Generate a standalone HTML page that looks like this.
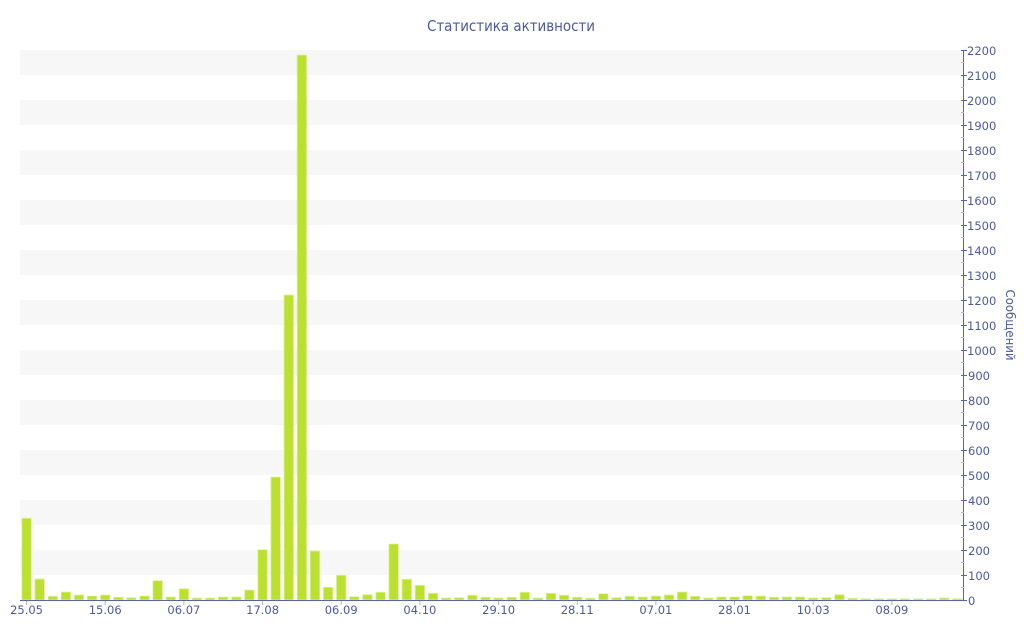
<!DOCTYPE html>
<html><head><meta charset="utf-8"><style>
html,body{margin:0;padding:0;background:#fff;}
svg{display:block;}
text{font-family:"DejaVu Sans","Liberation Sans",sans-serif;fill:#4d5b9c;}
</style></head><body>
<svg width="1024" height="640" viewBox="0 0 1024 640" xmlns="http://www.w3.org/2000/svg">
<rect x="0" y="0" width="1024" height="640" fill="#fff"/>
<text x="511" y="31" font-size="15.5" text-anchor="middle" textLength="168" lengthAdjust="spacingAndGlyphs">Статистика активности</text>
<g fill="#f7f7f7">
<rect x="20" y="50" width="943" height="25"/>
<rect x="20" y="100" width="943" height="25"/>
<rect x="20" y="150" width="943" height="25"/>
<rect x="20" y="200" width="943" height="25"/>
<rect x="20" y="250" width="943" height="25"/>
<rect x="20" y="300" width="943" height="25"/>
<rect x="20" y="350" width="943" height="25"/>
<rect x="20" y="400" width="943" height="25"/>
<rect x="20" y="450" width="943" height="25"/>
<rect x="20" y="500" width="943" height="25"/>
<rect x="20" y="550" width="943" height="25"/>
</g>
<g fill="#bbe02f" stroke="#dff29a" stroke-width="0.8">
<rect x="21.8" y="518.25" width="9.5" height="81.75"/>
<rect x="34.91" y="579" width="9.5" height="21"/>
<rect x="48.02" y="596.25" width="9.5" height="3.75"/>
<rect x="61.13" y="592" width="9.5" height="8"/>
<rect x="74.24" y="595" width="9.5" height="5"/>
<rect x="87.36" y="596" width="9.5" height="4"/>
<rect x="100.47" y="595" width="9.5" height="5"/>
<rect x="113.58" y="597.25" width="9.5" height="2.75"/>
<rect x="126.69" y="597.75" width="9.5" height="2.25"/>
<rect x="139.8" y="596" width="9.5" height="4"/>
<rect x="152.91" y="580.75" width="9.5" height="19.25"/>
<rect x="166.02" y="597" width="9.5" height="3"/>
<rect x="179.13" y="588.75" width="9.5" height="11.25"/>
<rect x="192.24" y="598" width="9.5" height="2"/>
<rect x="205.35" y="598" width="9.5" height="2"/>
<rect x="218.47" y="597" width="9.5" height="3"/>
<rect x="231.58" y="597" width="9.5" height="3"/>
<rect x="244.69" y="590" width="9.5" height="10"/>
<rect x="257.8" y="549.75" width="9.5" height="50.25"/>
<rect x="270.91" y="477" width="9.5" height="123"/>
<rect x="284.02" y="295" width="9.5" height="305"/>
<rect x="297.13" y="55" width="9.5" height="545"/>
<rect x="310.24" y="551" width="9.5" height="49"/>
<rect x="323.35" y="587.25" width="9.5" height="12.75"/>
<rect x="336.46" y="575.25" width="9.5" height="24.75"/>
<rect x="349.58" y="596.75" width="9.5" height="3.25"/>
<rect x="362.69" y="594.75" width="9.5" height="5.25"/>
<rect x="375.8" y="592.25" width="9.5" height="7.75"/>
<rect x="388.91" y="544" width="9.5" height="56"/>
<rect x="402.02" y="579.25" width="9.5" height="20.75"/>
<rect x="415.13" y="585.25" width="9.5" height="14.75"/>
<rect x="428.24" y="593.25" width="9.5" height="6.75"/>
<rect x="441.35" y="598" width="9.5" height="2"/>
<rect x="454.46" y="597.75" width="9.5" height="2.25"/>
<rect x="467.57" y="595.25" width="9.5" height="4.75"/>
<rect x="480.69" y="597.25" width="9.5" height="2.75"/>
<rect x="493.8" y="598" width="9.5" height="2"/>
<rect x="506.91" y="597.25" width="9.5" height="2.75"/>
<rect x="520.02" y="592.25" width="9.5" height="7.75"/>
<rect x="533.13" y="598" width="9.5" height="2"/>
<rect x="546.24" y="593.25" width="9.5" height="6.75"/>
<rect x="559.35" y="595.25" width="9.5" height="4.75"/>
<rect x="572.46" y="597.25" width="9.5" height="2.75"/>
<rect x="585.57" y="598.25" width="9.5" height="1.75"/>
<rect x="598.68" y="593.75" width="9.5" height="6.25"/>
<rect x="611.8" y="597.75" width="9.5" height="2.25"/>
<rect x="624.91" y="596.25" width="9.5" height="3.75"/>
<rect x="638.02" y="597" width="9.5" height="3"/>
<rect x="651.13" y="596" width="9.5" height="4"/>
<rect x="664.24" y="595" width="9.5" height="5"/>
<rect x="677.35" y="592" width="9.5" height="8"/>
<rect x="690.46" y="596.25" width="9.5" height="3.75"/>
<rect x="703.57" y="598" width="9.5" height="2"/>
<rect x="716.68" y="597" width="9.5" height="3"/>
<rect x="729.79" y="597" width="9.5" height="3"/>
<rect x="742.91" y="595.75" width="9.5" height="4.25"/>
<rect x="756.02" y="596" width="9.5" height="4"/>
<rect x="769.13" y="597.25" width="9.5" height="2.75"/>
<rect x="782.24" y="597" width="9.5" height="3"/>
<rect x="795.35" y="597" width="9.5" height="3"/>
<rect x="808.46" y="598" width="9.5" height="2"/>
<rect x="821.57" y="597.75" width="9.5" height="2.25"/>
<rect x="834.68" y="594.75" width="9.5" height="5.25"/>
<rect x="847.79" y="598.25" width="9.5" height="1.75"/>
<rect x="860.9" y="598.75" width="9.5" height="1.25"/>
<rect x="874.02" y="598.75" width="9.5" height="1.25"/>
<rect x="887.13" y="598.75" width="9.5" height="1.25"/>
<rect x="900.24" y="598.75" width="9.5" height="1.25"/>
<rect x="913.35" y="598.75" width="9.5" height="1.25"/>
<rect x="926.46" y="598.75" width="9.5" height="1.25"/>
<rect x="939.57" y="598" width="9.5" height="2"/>
<rect x="952.68" y="598.75" width="9.5" height="1.25"/>
</g>
<line x1="20" y1="600.5" x2="964" y2="600.5" stroke="#5566a6" stroke-width="1"/>
<g stroke="#b0b4c8" stroke-width="1">
<line x1="26.56" y1="601" x2="26.56" y2="605"/>
<line x1="105.2" y1="601" x2="105.2" y2="605"/>
<line x1="183.9" y1="601" x2="183.9" y2="605"/>
<line x1="262.6" y1="601" x2="262.6" y2="605"/>
<line x1="341.2" y1="601" x2="341.2" y2="605"/>
<line x1="419.9" y1="601" x2="419.9" y2="605"/>
<line x1="498.6" y1="601" x2="498.6" y2="605"/>
<line x1="577.2" y1="601" x2="577.2" y2="605"/>
<line x1="655.9" y1="601" x2="655.9" y2="605"/>
<line x1="734.5" y1="601" x2="734.5" y2="605"/>
<line x1="813.2" y1="601" x2="813.2" y2="605"/>
<line x1="891.9" y1="601" x2="891.9" y2="605"/>
</g>
<g font-size="11.5" text-anchor="middle">
<text x="26.56" y="614">25.05</text>
<text x="105.2" y="614">15.06</text>
<text x="183.9" y="614">06.07</text>
<text x="262.6" y="614">17.08</text>
<text x="341.2" y="614">06.09</text>
<text x="419.9" y="614">04.10</text>
<text x="498.6" y="614">29.10</text>
<text x="577.2" y="614">28.11</text>
<text x="655.9" y="614">07.01</text>
<text x="734.5" y="614">28.01</text>
<text x="813.2" y="614">10.03</text>
<text x="891.9" y="614">08.09</text>
</g>
<line x1="963.5" y1="50" x2="963.5" y2="601" stroke="#5566a6" stroke-width="1"/>
<path stroke="#b8b8b8" stroke-width="1" fill="none" d="M961 62.5h3M961 87.5h3M961 112.5h3M961 137.5h3M961 162.5h3M961 187.5h3M961 212.5h3M961 237.5h3M961 262.5h3M961 287.5h3M961 312.5h3M961 337.5h3M961 362.5h3M961 387.5h3M961 412.5h3M961 437.5h3M961 462.5h3M961 487.5h3M961 512.5h3M961 537.5h3M961 562.5h3M961 587.5h3"/>
<path stroke="#5566a6" stroke-width="1" fill="none" d="M961 50.5h6M961 75.5h6M961 100.5h6M961 125.5h6M961 150.5h6M961 175.5h6M961 200.5h6M961 225.5h6M961 250.5h6M961 275.5h6M961 300.5h6M961 325.5h6M961 350.5h6M961 375.5h6M961 400.5h6M961 425.5h6M961 450.5h6M961 475.5h6M961 500.5h6M961 525.5h6M961 550.5h6M961 575.5h6M961 600.5h6"/>
<g font-size="11.5" text-anchor="start">
<text x="967" y="55">2200</text>
<text x="967" y="80">2100</text>
<text x="967" y="105">2000</text>
<text x="967" y="130">1900</text>
<text x="967" y="155">1800</text>
<text x="967" y="180">1700</text>
<text x="967" y="205">1600</text>
<text x="967" y="230">1500</text>
<text x="967" y="255">1400</text>
<text x="967" y="280">1300</text>
<text x="967" y="305">1200</text>
<text x="967" y="330">1100</text>
<text x="967" y="355">1000</text>
<text x="968" y="380">900</text>
<text x="968" y="405">800</text>
<text x="968" y="430">700</text>
<text x="968" y="455">600</text>
<text x="968" y="480">500</text>
<text x="968" y="505">400</text>
<text x="968" y="530">300</text>
<text x="968" y="555">200</text>
<text x="968" y="580">100</text>
<text x="968" y="605">0</text>
</g>
<text x="0" y="0" font-size="12" text-anchor="middle" transform="translate(1006,325) rotate(90)" textLength="71" lengthAdjust="spacingAndGlyphs">Сообщений</text>
</svg>
</body></html>
